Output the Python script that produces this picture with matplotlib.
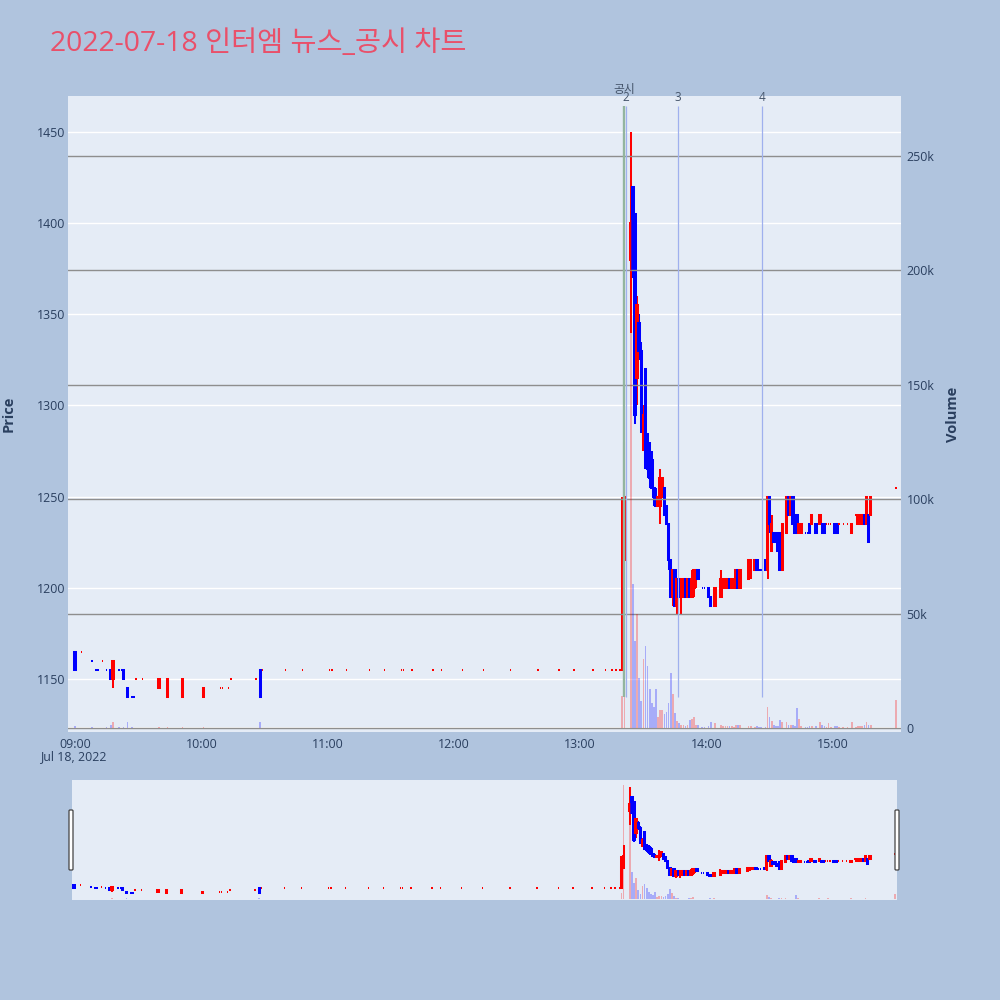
import matplotlib
matplotlib.use("Agg")
import matplotlib.pyplot as plt
import matplotlib.dates as mdates
import matplotlib.patches as mpatches
import matplotlib.ticker as mticker
import pandas as pd
import numpy as np

plt.rcParams['font.family'] = ['Open Sans', 'Noto Sans CJK KR', 'DejaVu Sans']

DAY = "2022-07-18"
TITLE = "2022-07-18 인터엠 뉴스_공시 차트"

# ---------------- data (1-minute candles) ----------------
times = ["09:00", "09:03", "09:08", "09:10", "09:11", "09:13", "09:15", "09:17", "09:18", "09:21",
         "09:22", "09:23", "09:25", "09:27", "09:28", "09:29", "09:32", "09:40", "09:44", "09:51",
         "10:01", "10:09", "10:10", "10:13", "10:14", "10:26", "10:28", "10:29", "10:40", "10:48",
         "11:01", "11:02", "11:09", "11:20", "11:27", "11:35", "11:36", "11:40", "11:50", "11:54",
         "12:04", "12:14", "12:27", "12:40", "12:50", "12:57", "13:06", "13:12", "13:15", "13:17",
         "13:19", "13:20", "13:21", "13:24", "13:25", "13:26", "13:27", "13:28", "13:29", "13:30",
         "13:31", "13:32", "13:33", "13:34", "13:35", "13:36", "13:37", "13:38", "13:39", "13:40",
         "13:41", "13:42", "13:43", "13:44", "13:45", "13:46", "13:47", "13:48", "13:49", "13:50",
         "13:51", "13:52", "13:53", "13:54", "13:55", "13:56", "13:58", "13:59", "14:01", "14:02",
         "14:04", "14:07", "14:08", "14:09", "14:10", "14:11", "14:12", "14:13", "14:14", "14:15",
         "14:16", "14:20", "14:21", "14:23", "14:24", "14:25", "14:26", "14:28", "14:29", "14:30",
         "14:31", "14:32", "14:33", "14:34", "14:35", "14:36", "14:38", "14:39", "14:40", "14:41",
         "14:42", "14:43", "14:44", "14:45", "14:47", "14:48", "14:49", "14:50", "14:52", "14:54",
         "14:55", "14:56", "14:57", "14:58", "14:59", "15:01", "15:02", "15:03", "15:05", "15:07",
         "15:09", "15:11", "15:12", "15:13", "15:14", "15:15", "15:16", "15:17", "15:18", "15:30"]

opens = [1165, 1165, 1160, 1155, 1155, 1160, 1155, 1155, 1150, 1155,
         1155, 1155, 1145, 1140, 1140, 1150, 1150, 1145, 1140, 1140,
         1140, 1145, 1145, 1145, 1150, 1150, 1155, 1155, 1155, 1155,
         1155, 1155, 1155, 1155, 1155, 1155, 1155, 1155, 1155, 1155,
         1155, 1155, 1155, 1155, 1155, 1155, 1155, 1155, 1155, 1155,
         1155, 1155, 1215, 1380, 1420, 1405, 1315, 1345, 1330, 1280,
         1320, 1280, 1275, 1270, 1255, 1250, 1245, 1245, 1250, 1255,
         1245, 1235, 1215, 1195, 1210, 1190, 1205, 1195, 1195, 1205,
         1195, 1205, 1195, 1200, 1205, 1210, 1200, 1200, 1200, 1195,
         1190, 1195, 1200, 1200, 1200, 1205, 1200, 1200, 1200, 1210,
         1200, 1205, 1210, 1210, 1215, 1210, 1210, 1215, 1210, 1250,
         1220, 1230, 1230, 1225, 1230, 1210, 1230, 1250, 1240, 1250,
         1240, 1240, 1230, 1230, 1230, 1230, 1235, 1235, 1235, 1235,
         1235, 1235, 1235, 1235, 1235, 1235, 1235, 1235, 1235, 1235,
         1230, 1240, 1235, 1235, 1235, 1240, 1235, 1240, 1240, 1255]

highs = [1165, 1165, 1160, 1155, 1155, 1160, 1155, 1155, 1160, 1155,
         1155, 1155, 1145, 1140, 1140, 1150, 1150, 1150, 1150, 1150,
         1145, 1145, 1145, 1145, 1150, 1150, 1155, 1155, 1155, 1155,
         1155, 1155, 1155, 1155, 1155, 1155, 1155, 1155, 1155, 1155,
         1155, 1155, 1155, 1155, 1155, 1155, 1155, 1155, 1155, 1155,
         1155, 1250, 1280, 1450, 1420, 1405, 1360, 1350, 1335, 1300,
         1320, 1285, 1280, 1275, 1255, 1255, 1250, 1265, 1260, 1255,
         1245, 1235, 1215, 1210, 1210, 1205, 1205, 1205, 1205, 1205,
         1205, 1205, 1210, 1210, 1210, 1210, 1200, 1200, 1200, 1195,
         1200, 1210, 1205, 1205, 1205, 1205, 1205, 1205, 1210, 1210,
         1210, 1215, 1215, 1215, 1215, 1210, 1210, 1215, 1250, 1250,
         1240, 1230, 1230, 1225, 1230, 1235, 1250, 1250, 1250, 1250,
         1240, 1240, 1235, 1235, 1230, 1230, 1235, 1240, 1235, 1240,
         1235, 1235, 1235, 1235, 1235, 1235, 1235, 1235, 1235, 1235,
         1235, 1240, 1240, 1240, 1240, 1240, 1250, 1240, 1250, 1255]

lows = [1155, 1165, 1160, 1155, 1155, 1160, 1155, 1150, 1145, 1155,
        1155, 1150, 1140, 1140, 1140, 1150, 1150, 1145, 1140, 1140,
        1140, 1145, 1145, 1145, 1150, 1150, 1140, 1155, 1155, 1155,
        1155, 1155, 1155, 1155, 1155, 1155, 1155, 1155, 1155, 1155,
        1155, 1155, 1155, 1155, 1155, 1155, 1155, 1155, 1155, 1155,
        1155, 1155, 1210, 1340, 1370, 1290, 1300, 1325, 1285, 1275,
        1265, 1260, 1255, 1255, 1245, 1245, 1245, 1235, 1250, 1240,
        1235, 1210, 1195, 1190, 1190, 1185, 1195, 1185, 1195, 1195,
        1195, 1195, 1195, 1195, 1200, 1205, 1200, 1200, 1195, 1190,
        1190, 1195, 1200, 1200, 1200, 1200, 1200, 1200, 1200, 1200,
        1200, 1205, 1205, 1210, 1210, 1210, 1210, 1210, 1205, 1230,
        1220, 1225, 1225, 1220, 1210, 1210, 1230, 1240, 1240, 1235,
        1230, 1230, 1230, 1230, 1230, 1230, 1230, 1235, 1230, 1235,
        1230, 1230, 1235, 1235, 1235, 1230, 1230, 1235, 1235, 1235,
        1230, 1240, 1235, 1235, 1235, 1235, 1235, 1225, 1240, 1255]

closes = [1155, 1165, 1160, 1155, 1155, 1160, 1155, 1150, 1160, 1155,
          1155, 1150, 1140, 1140, 1140, 1150, 1150, 1150, 1150, 1150,
          1145, 1145, 1145, 1145, 1150, 1150, 1140, 1155, 1155, 1155,
          1155, 1155, 1155, 1155, 1155, 1155, 1155, 1155, 1155, 1155,
          1155, 1155, 1155, 1155, 1155, 1155, 1155, 1155, 1155, 1155,
          1155, 1215, 1250, 1400, 1375, 1295, 1355, 1330, 1290, 1295,
          1270, 1265, 1260, 1255, 1250, 1245, 1250, 1260, 1260, 1240,
          1235, 1215, 1195, 1210, 1190, 1205, 1195, 1205, 1205, 1195,
          1205, 1195, 1205, 1210, 1210, 1205, 1200, 1200, 1195, 1190,
          1200, 1205, 1205, 1205, 1205, 1200, 1205, 1205, 1210, 1200,
          1210, 1215, 1215, 1215, 1210, 1210, 1210, 1210, 1250, 1235,
          1235, 1225, 1225, 1220, 1210, 1235, 1250, 1240, 1250, 1235,
          1230, 1230, 1235, 1235, 1230, 1230, 1230, 1240, 1230, 1240,
          1230, 1230, 1235, 1235, 1235, 1230, 1230, 1235, 1235, 1235,
          1235, 1240, 1240, 1240, 1240, 1235, 1250, 1225, 1250, 1255]

volumes = [900, 150, 300, 200, 150, 200, 300, 1500, 2600, 300,
           200, 600, 2600, 300, 200, 150, 150, 400, 500, 600,
           400, 100, 100, 100, 100, 100, 2600, 200, 150, 150,
           150, 150, 150, 150, 150, 150, 150, 150, 150, 150,
           150, 150, 150, 150, 150, 150, 150, 150, 150, 150,
           200, 14000, 265000, 222000, 63000, 38000, 50000, 22000, 12000, 30000,
           36000, 27000, 17000, 11000, 9000, 17000, 5000, 8000, 8000, 6000,
           7000, 11000, 24000, 15000, 6500, 3000, 2000, 1500, 1500, 1000,
           1500, 3500, 4000, 4800, 1500, 1500, 500, 500, 1000, 2500,
           2000, 1500, 1000, 800, 800, 700, 900, 600, 1200, 1500,
           1200, 1000, 800, 600, 800, 300, 300, 500, 9300, 4800,
           3000, 1500, 1000, 1000, 3500, 2600, 2600, 1500, 1200, 1200,
           1000, 8800, 4000, 800, 300, 300, 800, 1000, 800, 2500,
           1500, 800, 300, 2000, 300, 1000, 800, 300, 300, 300,
           2500, 500, 800, 1000, 800, 1500, 2500, 1500, 1500, 12300]

# news / disclosure markers
event_labels = ["공시", "2", "3", "4"]
event_times = ["13:20:48", "13:21:46", "13:46:28", "14:26:22"]
event_colors = ["#93B59E", "#9FB0EE", "#9FB0EE", "#9FB0EE"]

price_ticks = [1150, 1200, 1250, 1300, 1350, 1400, 1450]
volume_ticks = [0, 50000, 100000, 150000, 200000, 250000]
hour_ticks = ["09:00", "10:00", "11:00", "12:00", "13:00", "14:00", "15:00"]

# ---------------- helpers ----------------
def tnum(t):
    return mdates.date2num(pd.Timestamp(f"{DAY} {t}"))

x = np.array([tnum(t) for t in times])
o = np.array(opens, float); h = np.array(highs, float)
l = np.array(lows, float); c = np.array(closes, float)
v = np.array(volumes, float)

def directions(o, c):
    res, inc, prev = [], True, None
    for oi, ci in zip(o, c):
        if ci != oi:
            inc = ci > oi
        elif prev is not None and ci != prev:
            inc = ci > prev
        res.append(inc)
        prev = ci
    return np.array(res)

inc = directions(o, c)
MIN = 1.0 / 1440.0
BODY_W = 0.7 * MIN
VOL_W = 0.8 * MIN
LW = 1.45

def draw(axp, axv):
    cols = np.where(inc, '#FF0000', '#0000FF')
    axp.vlines(x, l, h, colors=cols, linewidth=LW, zorder=2)
    axp.bar(x, np.abs(c - o), bottom=np.minimum(o, c), width=BODY_W,
            color=cols, edgecolor=cols, linewidth=LW, zorder=3)
    vcols = [(1, 0, 0, 0.28) if i else (0, 0, 1, 0.27) for i in inc]
    axv.bar(x, v, width=VOL_W, color=vcols, linewidth=0, zorder=2)

def fx(px): return px / 1000.0
def fy(py): return 1 - py / 1000.0

BG = '#B0C4DE'
PLOT_BG = '#E5ECF6'
TXT = '#2a3f5f'

fig = plt.figure(figsize=(10, 10), dpi=100, facecolor=BG)

t0 = tnum("09:00")
xlim_main = (t0 - 3.33 * MIN, t0 + 392.4 * MIN)
ylim_price = (1120.9, 1469.75)
ylim_vol = (-1750, 276200)

# ---------------- main panel ----------------
ax = fig.add_axes([fx(68), fy(732), fx(901) - fx(68), fy(96) - fy(732)])
ax.set_facecolor(PLOT_BG)
ax2 = ax.twinx()
ax2.patch.set_visible(False)
draw(ax, ax2)

ax.set_xlim(*xlim_main)
ax.set_ylim(*ylim_price)
ax2.set_ylim(*ylim_vol)

ax.set_yticks(price_ticks)
ax.yaxis.grid(True, color='white', linewidth=1.0)
ax.xaxis.grid(False)
ax.set_axisbelow(True)
ax2.set_yticks(volume_ticks)
ax2.yaxis.set_major_formatter(mticker.FuncFormatter(
    lambda val, pos: "0" if val == 0 else f"{int(val/1000)}k"))
ax2.yaxis.grid(True, color='#8e8e8e', linewidth=1.0)
ax2.axhline(0, color='white', linewidth=1.4, zorder=1)

ax.set_xticks([tnum(t) for t in hour_ticks])
ax.set_xticklabels(hour_ticks)
for a in (ax, ax2):
    for s in a.spines.values():
        s.set_visible(False)
    a.tick_params(length=0, colors=TXT, labelsize=8.9)
ax.tick_params(axis='y', pad=2)
ax2.tick_params(axis='y', pad=4)
ax.tick_params(axis='x', pad=4.5)

fig.text(fx(73), fy(757), "Jul 18, 2022", ha='center', va='center', color=TXT, fontsize=8.9)
fig.text(fx(9), fy(414), "Price", rotation=90, ha='center', va='center', color=TXT,
         fontsize=10.5, fontweight='bold')
fig.text(fx(953), fy(414), "Volume", rotation=90, ha='center', va='center', color=TXT,
         fontsize=10.5, fontweight='bold')
fig.text(fx(50), fy(51), TITLE, ha='left', va='baseline', color='#E9506A', fontsize=20.4)

# event lines on top layer
ax3 = fig.add_axes(ax.get_position(), sharex=ax)
ax3.patch.set_visible(False)
ax3.set_ylim(*ylim_price)
ax3.axis('off')
ltop = h.max() * 1.01
lbot = l.min()
for lab, et, col in zip(event_labels, event_times, event_colors):
    xe = tnum(et)
    lw = 1.7 if lab == "공시" else 0.9
    ax3.vlines(xe, lbot, ltop, colors=col, linewidth=lw, zorder=5)
    off = 7 if lab == "공시" else 1
    ax3.annotate(lab, (xe, ltop), xytext=(0, off), textcoords='offset points',
                 ha='center', va='bottom', fontsize=8.5, color='#44546a',
                 annotation_clip=False)
ax3.set_xlim(*xlim_main)

# ---------------- range slider ----------------
rs = fig.add_axes([fx(72), fy(900), fx(897) - fx(72), fy(780) - fy(900)])
rs.set_facecolor(PLOT_BG)
rs2 = rs.twinx()
rs2.patch.set_visible(False)
draw(rs, rs2)
rs.set_xlim(t0 - 0.95 * MIN, t0 + 390.9 * MIN)
rs.set_ylim(*ylim_price)
rs2.set_ylim(*ylim_vol)
for a in (rs, rs2):
    a.set_xticks([]); a.set_yticks([])
    for s in a.spines.values():
        s.set_visible(False)

for hx in (69, 895):
    fig.patches.append(mpatches.FancyBboxPatch(
        (fx(hx), fy(870)), fx(4), fy(810) - fy(870),
        boxstyle="round,pad=0,rounding_size=0.001",
        transform=fig.transFigure, facecolor='white', edgecolor='#444444',
        linewidth=0.9, zorder=10))

fig.savefig("out.png", dpi=100, facecolor=BG)
